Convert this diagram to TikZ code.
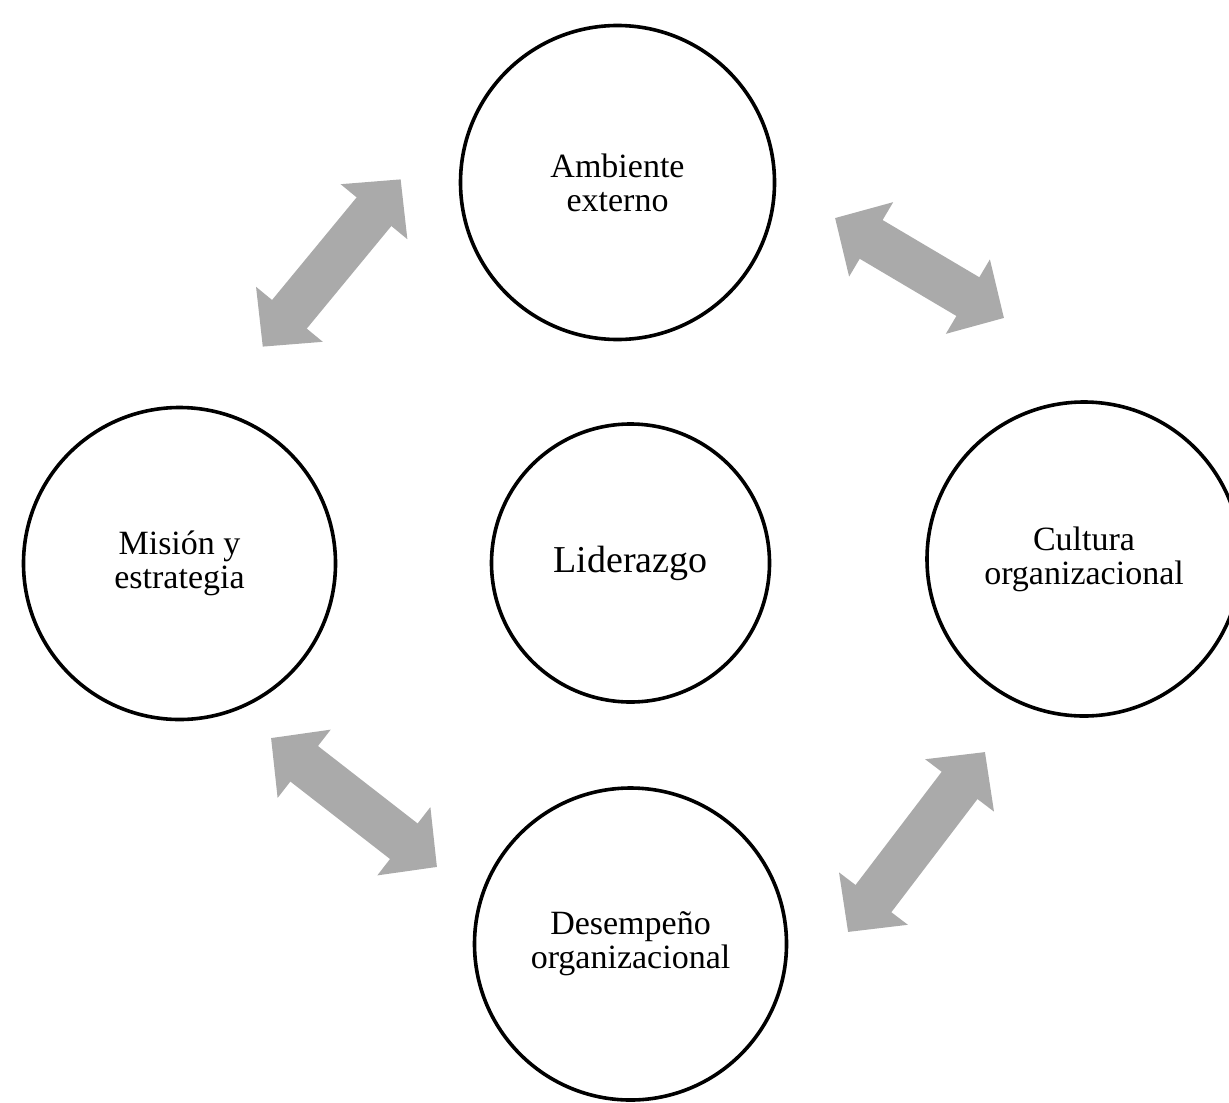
\documentclass[tikz,border=0pt]{standalone}
\usepackage{fontspec}
\setmainfont{Liberation Serif}
\usetikzlibrary{arrows.meta}
\definecolor{arrowgray}{RGB}{170,170,170}
\begin{document}
\begin{tikzpicture}[x=0.5pt,y=-0.5pt,
  bubble/.style={circle,draw=black,line width=1.8pt,minimum size=#1,inner sep=0pt,
    align=center,font=\fontsize{17}{17}\selectfont},
  bigarrow/.style={line width=22.5pt,draw=arrowgray,
    {Triangle[length=21pt,width=42pt]}-{Triangle[length=21pt,width=42pt]}}]
\useasboundingbox (0,0) rectangle (1229,1102);
\node[bubble=157pt] (top) at (617.5,182.5) {Ambiente\\externo};
\node[bubble=156pt] (left) at (179.5,563.5) {Misión y\\estrategia};
\node[bubble=139pt,font=\fontsize{19}{19}\selectfont] (center) at (630.5,563) {Liderazgo};
\node[bubble=157pt] (right) at (1084,559) {Cultura\\organizacional};
\node[bubble=156pt] (bottom) at (630.5,944) {Desempeño\\organizacional};
\coordinate (a1s) at (262.7,346.7);
\coordinate (a1e) at (400.7,179.3);
\coordinate (a2s) at (835,218);
\coordinate (a2e) at (1004,318);
\coordinate (a3s) at (271,738);
\coordinate (a3e) at (437,867);
\coordinate (a4s) at (985,752);
\coordinate (a4e) at (848,932);
\draw[bigarrow] (a1s) -- (a1e);
\draw[bigarrow] (a2s) -- (a2e);
\draw[bigarrow] (a3s) -- (a3e);
\draw[bigarrow] (a4s) -- (a4e);
\end{tikzpicture}
\end{document}
